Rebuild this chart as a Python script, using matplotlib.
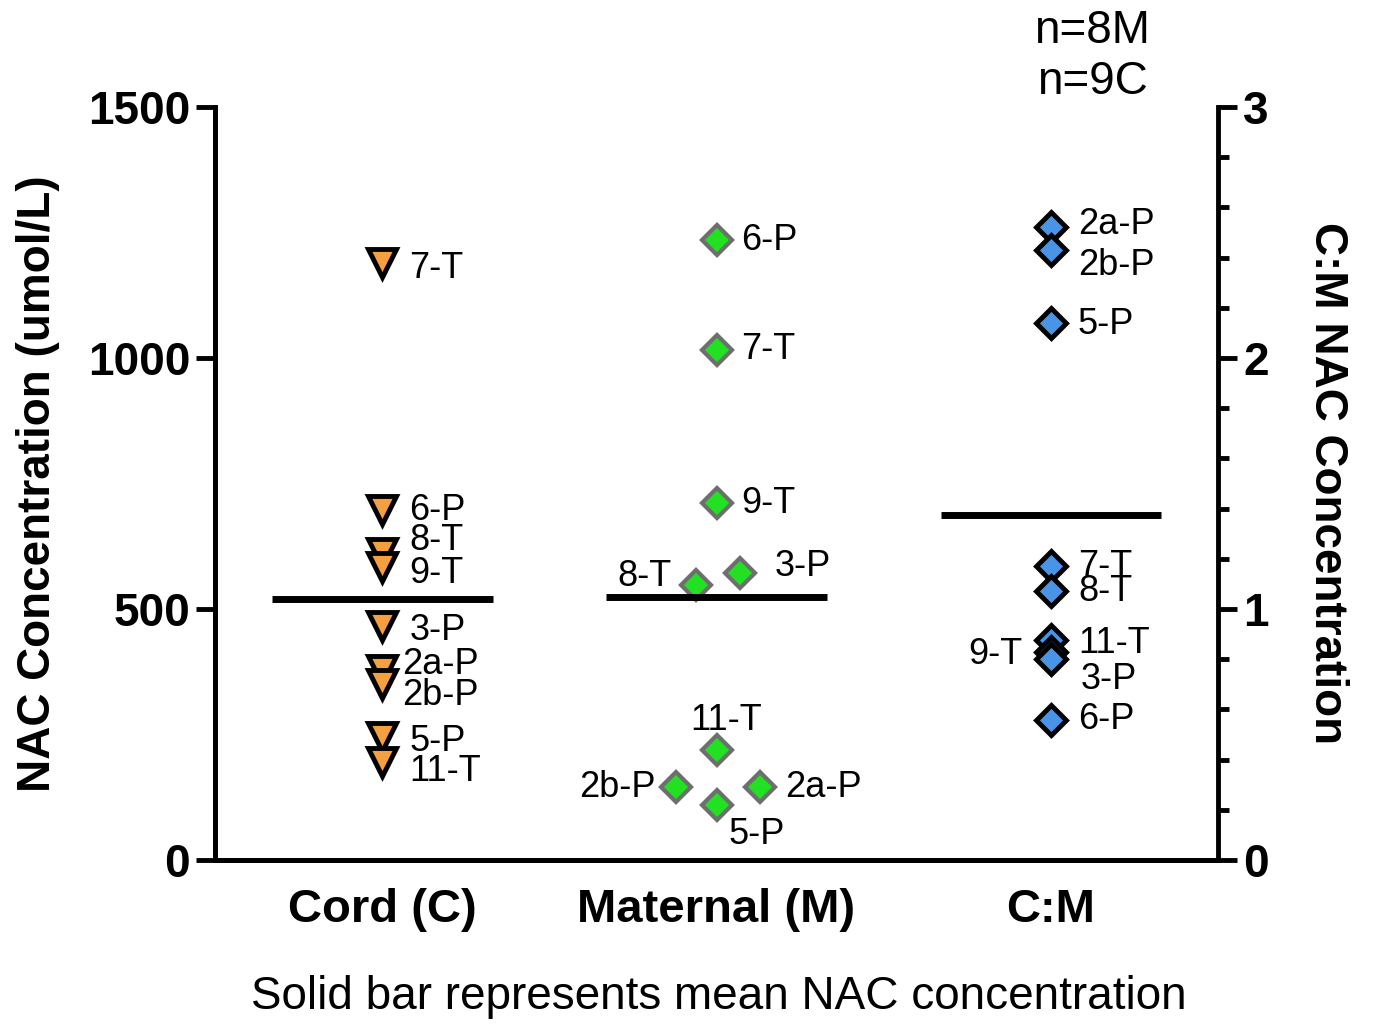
"""NAC concentration in cord and maternal samples, with C:M ratio on a second axis."""
import matplotlib
matplotlib.use("Agg")
import matplotlib.pyplot as plt
from matplotlib.ticker import MultipleLocator

plt.rcParams["font.family"] = ["Liberation Sans", "DejaVu Sans"]

categories = ["Cord (C)", "Maternal (M)", "C:M"]

cord_labels = ["7-T", "6-P", "8-T", "9-T", "3-P", "2a-P", "2b-P", "5-P", "11-T"]
cord_values = [1190, 697, 612, 584, 466, 378, 351, 245, 195]
cord_mean = 520

mat_labels = ["6-P", "7-T", "9-T", "8-T", "3-P", "11-T", "2b-P", "2a-P", "5-P"]
mat_values = [1235, 1016, 711, 548, 572, 219, 145, 145, 110]
mat_jitter = [0, 0, 0, -0.06, 0.07, 0, -0.12, 0.13, 0]
mat_mean = 524

ratio_labels = ["2a-P", "2b-P", "5-P", "7-T", "8-T", "11-T", "9-T", "3-P", "6-P"]
ratio_values = [2.52, 2.43, 2.14, 1.17, 1.07, 0.876, 0.83, 0.80, 0.558]
ratio_mean = 1.375

# label offsets in pixels (dx, dy, ha)
cord_off = [(27, -6, "left"), (27, 0, "left"), (27, 12, "left"), (27, -7, "left"),
            (27, -4, "left"), (20, 6, "left"), (20, -12, "left"), (27, -4, "left"),
            (27, -9, "left")]
mat_off = [(25, 0, "left"), (25, 0, "left"), (25, 0, "left"), (-25, 8, "right"),
           (35, 6, "left"), (10, 30, "center"), (-21, 0, "right"), (25, 0, "left"),
           (40, -30, "center")]
ratio_off = [(27, 3, "left"), (27, -15, "left"), (27, -2, "left"), (27, 0, "left"),
             (27, 0, "left"), (27, -3, "left"), (-28, -3, "right"), (30, -20, "left"),
             (27, 0, "left")]

fig = plt.figure(figsize=(13.74, 10.28), dpi=100)
ax = fig.add_axes([0.1565, 0.1634, 0.73, 0.7325])
ax2 = ax.twinx()

lab_fs = 26

ax.plot([0] * len(cord_values), cord_values, "v", ms=20, mfc="#F5A040", mec="black",
        mew=3.5, ls="none", zorder=3)
for lab, v, (dx, dy, ha) in zip(cord_labels, cord_values, cord_off):
    ax.annotate(lab, (0, v), xytext=(dx, dy), textcoords="offset pixels",
                ha=ha, va="center", fontsize=lab_fs)

mx = [1 + j for j in mat_jitter]
ax.plot(mx, mat_values, "D", ms=15.5, mfc="#22E022", mec="#6E6E6E", mew=3,
        ls="none", zorder=3)
for lab, x, v, (dx, dy, ha) in zip(mat_labels, mx, mat_values, mat_off):
    ax.annotate(lab, (x, v), xytext=(dx, dy), textcoords="offset pixels",
                ha=ha, va="center", fontsize=lab_fs)

ax.hlines([cord_mean, mat_mean], [-0.33, 0.67], [0.33, 1.33], color="black", lw=5, zorder=4)

ax2.plot([2] * len(ratio_values), ratio_values, "D", ms=15, mfc="#4A94E6", mec="black",
         mew=3.5, ls="none", zorder=3)
for lab, v, (dx, dy, ha) in zip(ratio_labels, ratio_values, ratio_off):
    ax2.annotate(lab, (2, v), xytext=(dx, dy), textcoords="offset pixels",
                 ha=ha, va="center", fontsize=lab_fs)
ax2.hlines(ratio_mean, 1.67, 2.33, color="black", lw=5, zorder=4)

ax.set_xlim(-0.5, 2.5)
ax.set_ylim(0, 1500)
ax2.set_ylim(0, 3)
ax.set_xticks([0, 1, 2])
ax.set_xticklabels(categories, fontsize=34, fontweight="bold")
ax.set_yticks([0, 500, 1000, 1500])
ax2.set_yticks([0, 1, 2, 3])
ax2.yaxis.set_minor_locator(MultipleLocator(0.2))

for a in (ax, ax2):
    a.spines["top"].set_visible(False)
    for s in ("left", "right", "bottom"):
        a.spines[s].set_linewidth(3.5)
ax.spines["right"].set_visible(False)

ax.tick_params(axis="x", length=0, pad=20)
ax.tick_params(axis="y", length=14, width=3.5, labelsize=33, pad=4)
ax2.tick_params(axis="y", which="major", length=14, width=3.5, labelsize=33, pad=4)
ax2.tick_params(axis="y", which="minor", length=8, width=3.5)
for t in ax.get_yticklabels() + ax2.get_yticklabels():
    t.set_fontweight("bold")

ax.set_ylabel("NAC Concentration (umol/L)", fontsize=33, fontweight="bold", labelpad=20)
ax2.set_ylabel("C:M NAC Concentration", fontsize=33, fontweight="bold",
               rotation=-90, labelpad=58)

fig.text(0.523, 0.03, "Solid bar represents mean NAC concentration", ha="center",
         va="center", fontsize=33)
fig.text(0.795, 0.97, "n=8M", ha="center", va="center", fontsize=33)
fig.text(0.795, 0.92, "n=9C", ha="center", va="center", fontsize=33)

fig.savefig("out.png", dpi=100)
